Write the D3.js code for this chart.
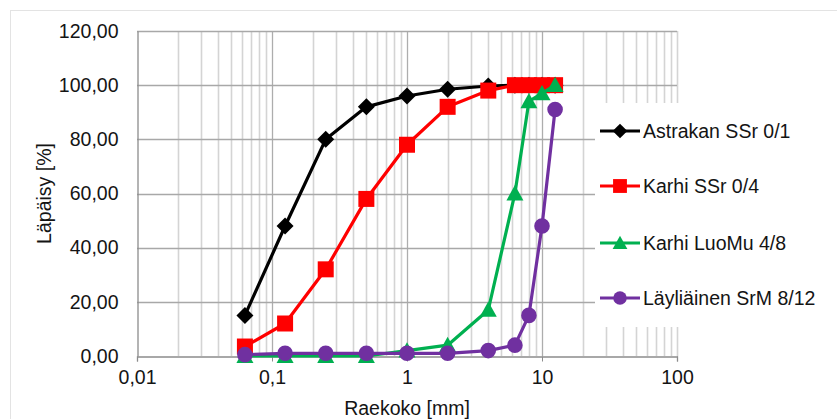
<!DOCTYPE html>
<html>
<head>
<meta charset="utf-8">
<script src="https://cdn.jsdelivr.net/npm/d3@7"></script>
<style>
  html, body { margin: 0; padding: 0; background: #fff; }
  svg { display: block; font-family: "Liberation Sans", Arial, sans-serif; }
</style>
</head>
<body>
<svg id="chart" width="837" height="419"></svg>
<script>
// Sieve sizes (mm) and passing percentages per material
const sieves = [0.063, 0.125, 0.25, 0.5, 1, 2, 4, 6.3, 8, 10, 12.5];
const seriesNames = ["Astrakan SSr 0/1", "Karhi SSr 0/4", "Karhi LuoMu 4/8", "Läyliäinen SrM 8/12"];
const astrakan = [15, 48, 80, 92, 96, 98.5, 99.7, 100, 100, 100, 100];
const karhiSSr = [3.5, 12, 32, 58, 78, 92, 98, 100, 100, 100, 100];
const karhiLuoMu = [0, 0, 0, 0, 2, 4, 17, 60, 94, 97, 100];
const laylia = [0.5, 1, 1, 1, 1, 1, 2, 4, 15, 48, 91];
const yTicks = [0, 20, 40, 60, 80, 100, 120];
const xTicks = [0.01, 0.1, 1, 10, 100];
const xTickLabels = ["0,01", "0,1", "1", "10", "100"];

const colors = ["#000000", "#ff0000", "#00b050", "#7030a0"];
const markerKinds = ["diamond", "square", "triangle", "circle"];
const values = [astrakan, karhiSSr, karhiLuoMu, laylia];

const svg = d3.select("#chart");
const W = 837, H = 419;
const plot = { left: 137, right: 677, top: 31, bottom: 356 };
const FS = 19.5;
const textColor = "#141414";

const x = d3.scaleLog().domain([0.01, 100]).range([plot.left, plot.right]);
const y = d3.scaleLinear().domain([0, 120]).range([plot.bottom, plot.top]);

const fiLocale = d3.formatLocale({ decimal: ",", thousands: "\u00a0", grouping: [3], currency: ["", " €"] });
const fmt2 = fiLocale.format(".2f");

// Outer chart area frame
svg.append("rect").attr("x", 10.5).attr("y", 10.5).attr("width", W).attr("height", H)
  .attr("fill", "#fff").attr("stroke", "#e3e3e3");

// Minor vertical gridlines (2..9 within each decade)
const minor = [];
for (let d = 0.01; d < 100; d *= 10) {
  for (let k = 2; k <= 9; k++) minor.push(+(d * k).toPrecision(3));
}
const g = svg.append("g");
g.selectAll("line.minor").data(minor).join("line")
  .attr("x1", d => Math.round(x(d)) + 0.5).attr("x2", d => Math.round(x(d)) + 0.5)
  .attr("y1", plot.top).attr("y2", plot.bottom)
  .attr("stroke", "#d4d4d4").attr("stroke-width", 1.6);

// Right plot edge
g.append("line").attr("x1", plot.right + 0.5).attr("x2", plot.right + 0.5)
  .attr("y1", plot.top).attr("y2", plot.bottom).attr("stroke", "#d4d4d4").attr("stroke-width", 1.6);

// Major vertical gridlines at decades
g.selectAll("line.major").data([0.1, 1, 10]).join("line")
  .attr("x1", d => Math.round(x(d)) + 0.5).attr("x2", d => Math.round(x(d)) + 0.5)
  .attr("y1", plot.top).attr("y2", plot.bottom)
  .attr("stroke", "#adadad").attr("stroke-width", 1.3);

// Horizontal gridlines
g.selectAll("line.h").data(yTicks.filter(v => v > 0)).join("line")
  .attr("x1", plot.left).attr("x2", plot.right)
  .attr("y1", d => Math.round(y(d)) + 0.5).attr("y2", d => Math.round(y(d)) + 0.5)
  .attr("stroke", "#a8a8a8").attr("stroke-width", 1.3);

// Axes
const xAxis = d3.axisBottom(x).tickValues(xTicks).tickSize(5).tickFormat((d, i) => xTickLabels[i]).tickPadding(9);
const xg = svg.append("g").attr("transform", `translate(0,${plot.bottom + 0.5})`).call(xAxis);
xg.select(".domain").attr("stroke", "#8c8c8c").attr("stroke-width", 1.3);
xg.selectAll(".tick line").attr("stroke", "#8c8c8c");
xg.selectAll(".tick text").attr("font-size", FS).attr("fill", textColor)
  .attr("font-family", "'Liberation Sans', Arial, sans-serif");

const yAxis = d3.axisLeft(y).tickValues(yTicks).tickSize(0).tickPadding(19).tickFormat(fmt2);
const yg = svg.append("g").attr("transform", `translate(${plot.left + 0.5},0)`).call(yAxis);
yg.select(".domain").attr("stroke", "#8c8c8c").attr("stroke-width", 1.3);
yg.selectAll(".tick text").attr("font-size", FS).attr("fill", textColor)
  .attr("font-family", "'Liberation Sans', Arial, sans-serif");

// Axis titles
svg.append("text").attr("x", (plot.left + plot.right) / 2).attr("y", 415)
  .attr("text-anchor", "middle").attr("font-size", FS).attr("fill", textColor).text("Raekoko [mm]");
svg.append("text").attr("transform", `translate(51,${(plot.top + plot.bottom) / 2}) rotate(-90)`)
  .attr("text-anchor", "middle").attr("font-size", FS).attr("fill", textColor).text("Läpäisy [%]");

// Marker shapes
const diamondType = { draw(ctx, size) { const r = Math.sqrt(size) / 2; ctx.moveTo(0, -r); ctx.lineTo(r, 0); ctx.lineTo(0, r); ctx.lineTo(-r, 0); ctx.closePath(); } };
const triType = { draw(ctx, size) { const w = Math.sqrt(size); const h = w * 0.9; ctx.moveTo(0, -h * 0.55); ctx.lineTo(w / 2, h * 0.45); ctx.lineTo(-w / 2, h * 0.45); ctx.closePath(); } };
const symbolFor = {
  diamond: d3.symbol().type(diamondType).size(17 * 17),
  square: d3.symbol().type(d3.symbolSquare).size(16 * 16),
  triangle: d3.symbol().type(triType).size(17 * 17),
  circle: d3.symbol().type(d3.symbolCircle).size(Math.PI * 7.8 * 7.8)
};

const line = d3.line().x(d => x(d[0])).y(d => y(d[1]));

// Series: line then markers, in legend order
values.forEach((vals, i) => {
  const pts = sieves.map((s, j) => [s, vals[j]]);
  const sg = svg.append("g");
  sg.append("path").datum(pts).attr("d", line).attr("fill", "none")
    .attr("stroke", colors[i]).attr("stroke-width", 3.2).attr("stroke-linejoin", "round");
  sg.selectAll("path.m").data(pts).join("path").attr("class", "m")
    .attr("transform", d => `translate(${x(d[0])},${y(d[1])})`)
    .attr("d", symbolFor[markerKinds[i]]()).attr("fill", colors[i]);
});

// Legend box
const legend = svg.append("g");
legend.append("rect").attr("x", 595).attr("y", 103).attr("width", 260).attr("height", 224).attr("fill", "#fff");
const legendY = [131, 186, 243, 298];
seriesNames.forEach((name, i) => {
  const lg = legend.append("g").attr("transform", `translate(0,${legendY[i]})`);
  lg.append("line").attr("x1", 600).attr("x2", 640).attr("y1", 0).attr("y2", 0)
    .attr("stroke", colors[i]).attr("stroke-width", 3.2);
  const legendSym = d3.symbol().type(symbolFor[markerKinds[i]].type()).size(symbolFor[markerKinds[i]].size()() * 0.75);
  lg.append("path").attr("transform", "translate(620,0)").attr("d", legendSym()).attr("fill", colors[i]);
  lg.append("text").attr("x", 643).attr("y", 0).attr("dy", "0.35em")
    .attr("font-size", FS).attr("fill", textColor).text(name);
});
</script>
</body>
</html>
